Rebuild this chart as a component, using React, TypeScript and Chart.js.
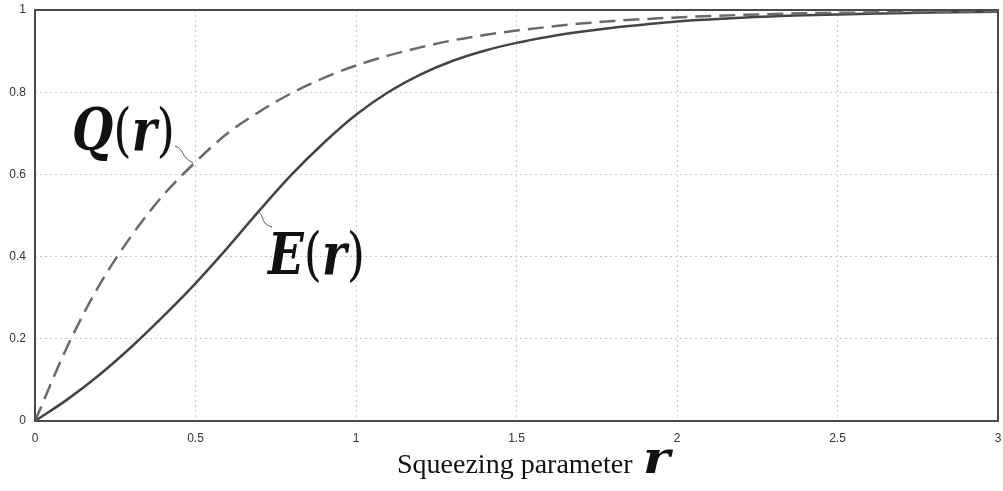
import React, { useEffect, useRef } from "react";
import { Chart, registerables } from "chart.js";

Chart.register(...registerables);

// Squeezing parameter r
const rValues = [
  0, 0.1, 0.2, 0.3, 0.4, 0.5, 0.6, 0.7, 0.8, 0.9, 1.0, 1.1, 1.2, 1.3, 1.4, 1.5,
  1.6, 1.7, 1.8, 1.9, 2.0, 2.2, 2.4, 2.6, 2.8, 3.0,
];
// Q(r) (dashed)
const qValues = [
  0, 0.18, 0.33, 0.45, 0.55, 0.63, 0.7, 0.753, 0.798, 0.835, 0.865, 0.889, 0.909,
  0.926, 0.939, 0.95, 0.959, 0.967, 0.973, 0.978, 0.982, 0.988, 0.992, 0.994,
  0.996, 0.997,
];
// E(r) (solid)
const eValues = [
  0, 0.052, 0.112, 0.18, 0.255, 0.335, 0.422, 0.513, 0.6, 0.677, 0.745, 0.8,
  0.843, 0.876, 0.901, 0.92, 0.935, 0.947, 0.957, 0.965, 0.972, 0.981, 0.987,
  0.991, 0.994, 0.996,
];
const xTickLabels = ["0", "0.5", "1", "1.5", "2", "2.5", "3"];
const yTickLabels = ["0", "0.2", "0.4", "0.6", "0.8", "1"];
const xTitle = "Squeezing parameter";
const xTitleVar = "r";

type Part = { t: string; font: string };

function drawParts(ctx: CanvasRenderingContext2D, parts: Part[], x: number, baseline: number, targetW: number) {
  let total = 0;
  const widths: number[] = [];
  for (const p of parts) {
    ctx.font = p.font;
    const w = ctx.measureText(p.t).width;
    widths.push(w);
    total += w;
  }
  ctx.save();
  ctx.translate(x, baseline);
  ctx.scale(targetW / total, 1);
  ctx.textBaseline = "alphabetic";
  ctx.textAlign = "left";
  let cx = 0;
  parts.forEach((p, i) => {
    ctx.font = p.font;
    ctx.fillText(p.t, cx, 0);
    cx += widths[i];
  });
  ctx.restore();
}

const annotPlugin = {
  id: "annot",
  afterDatasetsDraw(chart: any) {
    const { ctx, chartArea } = chart;
    ctx.save();
    ctx.strokeStyle = "#4a4a4a";
    ctx.lineWidth = 2;
    ctx.setLineDash([]);
    ctx.strokeRect(chartArea.left, chartArea.top, chartArea.right - chartArea.left, chartArea.bottom - chartArea.top);
    ctx.restore();
  },
  afterDraw(chart: any) {
    const { ctx } = chart;
    ctx.save();
    ctx.fillStyle = "#111";
    const big = 58;
    const italic = `bold italic ${big}px 'DejaVu Serif'`;
    const upright = `${big}px 'DejaVu Serif'`;
    drawParts(ctx, [
      { t: "Q", font: italic },
      { t: "(", font: upright },
      { t: "r", font: italic },
      { t: ")", font: upright },
    ], 72, 150, 103);
    drawParts(ctx, [
      { t: "E", font: italic },
      { t: "(", font: upright },
      { t: "r", font: italic },
      { t: ")", font: upright },
    ], 268, 274, 97);

    // leader lines
    ctx.strokeStyle = "#555";
    ctx.lineWidth = 1;
    ctx.setLineDash([]);
    ctx.beginPath();
    ctx.moveTo(175, 146);
    ctx.bezierCurveTo(182, 148, 183, 155, 186, 158);
    ctx.bezierCurveTo(188, 160, 190, 161, 193, 163);
    ctx.stroke();
    ctx.beginPath();
    ctx.moveTo(257, 211);
    ctx.bezierCurveTo(263, 214, 262, 220, 265, 223);
    ctx.bezierCurveTo(267, 225, 269, 226, 272, 227);
    ctx.stroke();

    // x-axis title
    ctx.font = "28px 'Liberation Serif'";
    ctx.textBaseline = "alphabetic";
    ctx.textAlign = "left";
    ctx.fillText(xTitle, 397, 473);
    drawParts(ctx, [{ t: xTitleVar, font: "bold italic 44px 'DejaVu Serif'" }], 643, 473, 27);
    ctx.restore();
  },
};

export default function App() {
  const ref = useRef<HTMLCanvasElement | null>(null);
  useEffect(() => {
    if (!ref.current) return;
    const gridCommon = {
      color: "#c9c9c9",
      lineWidth: 1,
      drawTicks: true,
      tickColor: "rgba(0,0,0,0)",
    };
    const chart = new Chart(ref.current, {
      type: "line",
      data: {
        datasets: [
          {
            label: "Q(r)",
            data: rValues.map((r, i) => ({ x: r, y: qValues[i] })),
            borderColor: "#6a6a6a",
            borderWidth: 2.5,
            borderDash: [16, 8],
            pointRadius: 0,
            fill: false,
            cubicInterpolationMode: "monotone",
          },
          {
            label: "E(r)",
            data: rValues.map((r, i) => ({ x: r, y: eValues[i] })),
            borderColor: "#444444",
            borderWidth: 2.5,
            pointRadius: 0,
            fill: false,
            cubicInterpolationMode: "monotone",
          },
        ],
      },
      options: {
        animation: false,
        responsive: false,
        layout: { padding: { top: 10, right: 5, left: 0, bottom: 0 } },
        plugins: { legend: { display: false }, tooltip: { enabled: false } },
        scales: {
          x: {
            type: "linear",
            min: 0,
            max: 3,
            afterFit: (s: any) => { s.height = 70; },
            afterBuildTicks: (s: any) => { s.ticks = xTickLabels.map((t) => ({ value: parseFloat(t) })); },
            ticks: {
              padding: 1,
              color: "#333",
              font: { family: "'Liberation Sans'", size: 12 },
              maxRotation: 0,
              callback: (v: any) => xTickLabels.find((t) => parseFloat(t) === v) ?? "",
            },
            grid: { ...gridCommon, tickLength: 9 },
            border: { display: false, dash: [2, 3] },
          },
          y: {
            type: "linear",
            min: 0,
            max: 1,
            afterFit: (s: any) => { s.width = 35; },
            afterBuildTicks: (s: any) => { s.ticks = yTickLabels.map((t) => ({ value: parseFloat(t) })); },
            ticks: {
              padding: 1,
              color: "#333",
              font: { family: "'Liberation Sans'", size: 12 },
              callback: (v: any) => yTickLabels.find((t) => Math.abs(parseFloat(t) - v) < 1e-9) ?? "",
            },
            grid: { ...gridCommon, tickLength: 8 },
            border: { display: false, dash: [2, 3] },
          },
        },
      },
      plugins: [annotPlugin],
    } as any);
    return () => chart.destroy();
  }, []);
  return (
    <div style={{ position: "absolute", left: 0, top: 0, width: 1003, height: 491, background: "#fff" }}>
      <canvas ref={ref} width={1003} height={491} style={{ width: 1003, height: 491, display: "block" }} />
    </div>
  );
}
